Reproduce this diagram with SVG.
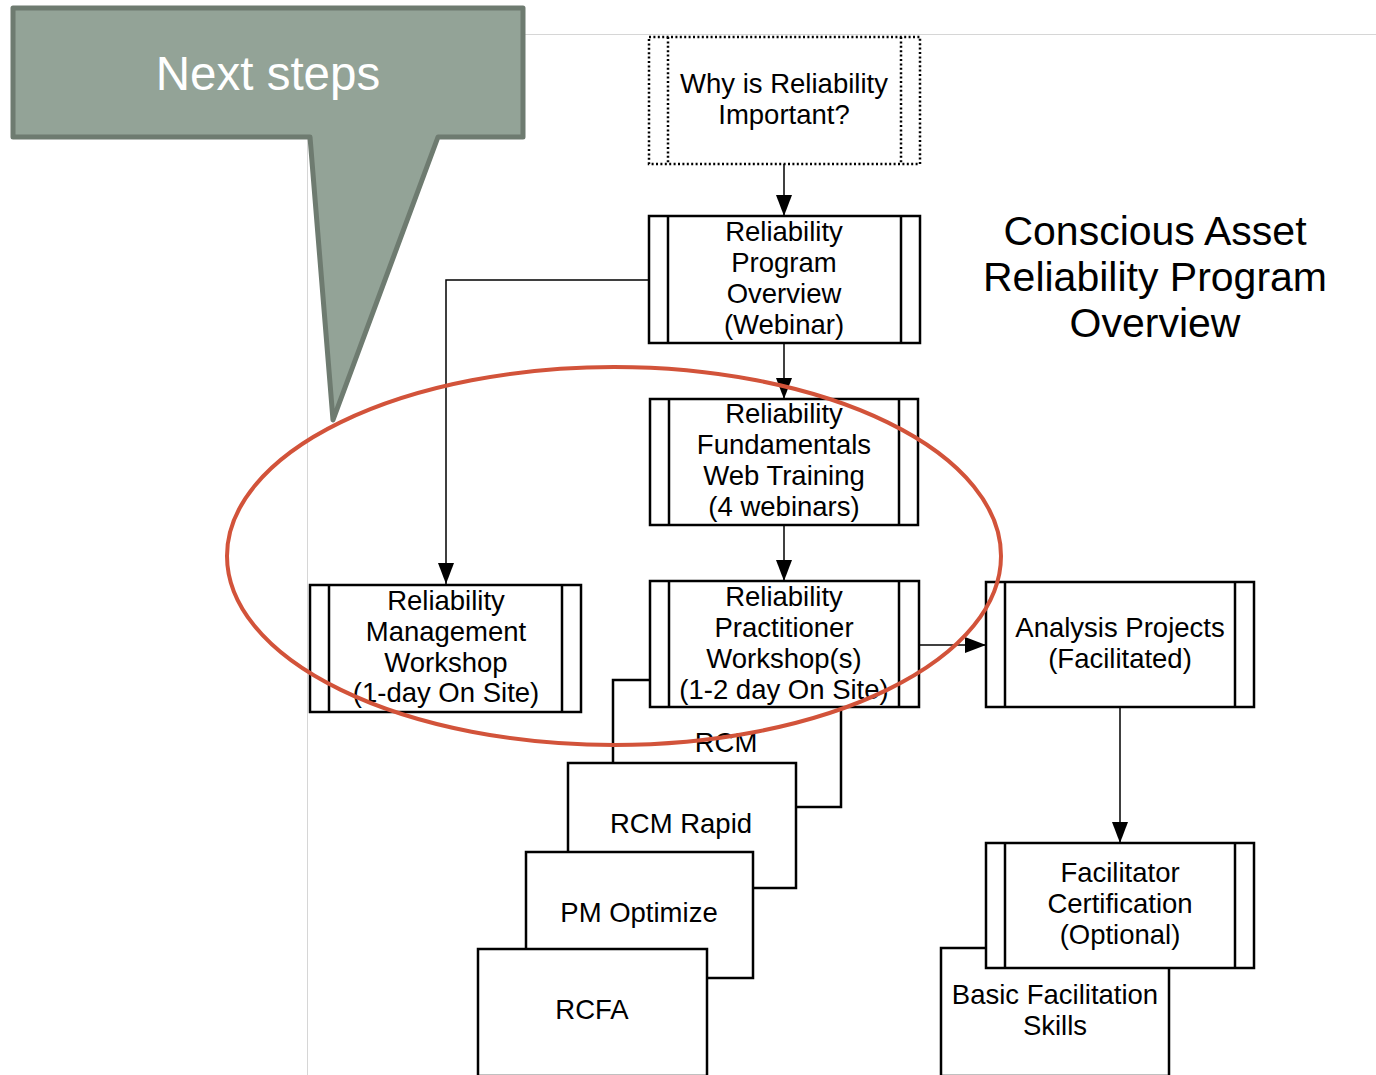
<svg xmlns="http://www.w3.org/2000/svg" width="1376" height="1075" viewBox="0 0 1376 1075">
  <style>
    text { font-family: "Liberation Sans", Arial, sans-serif; fill: #000; }
    .lbl { font-size: 27.5px; text-anchor: middle; }
    .title { font-size: 41px; text-anchor: middle; }
    .box { fill: #fff; stroke: #000; stroke-width: 2.5; }
    .bar { fill: none; stroke: #000; stroke-width: 2.5; }
    .dot { fill: #fff; stroke: #000; stroke-width: 2.5; stroke-dasharray: 2 2.4; }
    .dotbar { fill: none; stroke: #000; stroke-width: 2.5; stroke-dasharray: 2 2.4; }
    .conn { fill: none; stroke: #000; stroke-width: 1.5; }
    .frame { fill: none; stroke: #d6d6d6; stroke-width: 1; }
  </style>
  <defs>
    <marker id="arrow" viewBox="0 0 21 16" refX="21" refY="8" markerWidth="21" markerHeight="16" markerUnits="userSpaceOnUse" orient="auto">
      <path d="M0,0 L21,8 L0,16 z" fill="#000"/>
    </marker>
  </defs>

  <rect width="1376" height="1075" fill="#fff"/>

  <!-- page frame edges -->
  <line class="frame" x1="523" y1="34.5" x2="1376" y2="34.5"/>
  <line class="frame" x1="307.5" y1="137" x2="307.5" y2="1075"/>

  <!-- connectors -->
  <g id="connectors">
    <line class="conn" x1="784" y1="164" x2="784" y2="216" marker-end="url(#arrow)"/>
    <line class="conn" x1="784" y1="343" x2="784" y2="399" marker-end="url(#arrow)"/>
    <line class="conn" x1="784" y1="525" x2="784" y2="581" marker-end="url(#arrow)"/>
    <polyline class="conn" points="649,280 446,280 446,584" marker-end="url(#arrow)"/>
    <line class="conn" x1="919" y1="645" x2="986" y2="645" marker-end="url(#arrow)"/>
    <line class="conn" x1="1120" y1="707" x2="1120" y2="843" stroke="#444" marker-end="url(#arrow)"/>
  </g>

  <!-- title -->
  <g id="title">
    <text class="title" x="1155" y="245">Conscious Asset</text>
    <text class="title" x="1155" y="291">Reliability Program</text>
    <text class="title" x="1155" y="337">Overview</text>
  </g>

  <g id="why">
    <rect class="dot" x="649" y="37" width="271" height="127"/>
    <line class="dotbar" x1="668" y1="37" x2="668" y2="164"/>
    <line class="dotbar" x1="901" y1="37" x2="901" y2="164"/>
    <text class="lbl" x="784" y="93">Why is Reliability</text>
    <text class="lbl" x="784" y="124">Important?</text>
  </g>

  <g id="program-overview">
    <rect class="box" x="649" y="216" width="271" height="127"/>
    <line class="bar" x1="668" y1="216" x2="668" y2="343"/>
    <line class="bar" x1="901" y1="216" x2="901" y2="343"/>
    <text class="lbl" x="784" y="241">Reliability</text>
    <text class="lbl" x="784" y="272">Program</text>
    <text class="lbl" x="784" y="303">Overview</text>
    <text class="lbl" x="784" y="334">(Webinar)</text>
  </g>

  <g id="fundamentals">
    <rect class="box" x="650" y="399" width="268" height="126"/>
    <line class="bar" x1="669" y1="399" x2="669" y2="525"/>
    <line class="bar" x1="899" y1="399" x2="899" y2="525"/>
    <text class="lbl" x="784" y="423">Reliability</text>
    <text class="lbl" x="784" y="454">Fundamentals</text>
    <text class="lbl" x="784" y="485">Web Training</text>
    <text class="lbl" x="784" y="516">(4 webinars)</text>
  </g>

  <g id="management">
    <rect class="box" x="310" y="585" width="271" height="127"/>
    <line class="bar" x1="329" y1="585" x2="329" y2="712"/>
    <line class="bar" x1="562" y1="585" x2="562" y2="712"/>
    <text class="lbl" x="446" y="610">Reliability</text>
    <text class="lbl" x="446" y="641">Management</text>
    <text class="lbl" x="446" y="672">Workshop</text>
    <text class="lbl" x="446" y="702">(1-day On Site)</text>
  </g>

  <!-- stacked method cards, back to front -->
  <g id="rcm">
    <rect class="box" x="613" y="680" width="228" height="127"/>
    <text class="lbl" x="726" y="752">RCM</text>
  </g>

  <g id="practitioner">
    <rect class="box" x="650" y="581" width="269" height="126"/>
    <line class="bar" x1="669" y1="581" x2="669" y2="707"/>
    <line class="bar" x1="899" y1="581" x2="899" y2="707"/>
    <text class="lbl" x="784" y="606">Reliability</text>
    <text class="lbl" x="784" y="637">Practitioner</text>
    <text class="lbl" x="784" y="668">Workshop(s)</text>
    <text class="lbl" x="784" y="699">(1-2 day On Site)</text>
  </g>

  <g id="rcm-rapid">
    <rect class="box" x="568" y="763" width="228" height="125"/>
    <text class="lbl" x="681" y="833">RCM Rapid</text>
  </g>

  <g id="pm-optimize">
    <rect class="box" x="526" y="852" width="227" height="126"/>
    <text class="lbl" x="639" y="922">PM Optimize</text>
  </g>

  <g id="rcfa">
    <rect class="box" x="478" y="949" width="229" height="127"/>
    <text class="lbl" x="592" y="1019">RCFA</text>
  </g>

  <g id="analysis">
    <rect class="box" x="986" y="582" width="268" height="125"/>
    <line class="bar" x1="1005" y1="582" x2="1005" y2="707"/>
    <line class="bar" x1="1235" y1="582" x2="1235" y2="707"/>
    <text class="lbl" x="1120" y="637">Analysis Projects</text>
    <text class="lbl" x="1120" y="668">(Facilitated)</text>
  </g>

  <g id="basic-facilitation">
    <rect class="box" x="941" y="948" width="228" height="128"/>
    <text class="lbl" x="1055" y="1004">Basic Facilitation</text>
    <text class="lbl" x="1055" y="1035">Skills</text>
  </g>

  <g id="facilitator">
    <rect class="box" x="986" y="843" width="268" height="125"/>
    <line class="bar" x1="1005" y1="843" x2="1005" y2="968"/>
    <line class="bar" x1="1235" y1="843" x2="1235" y2="968"/>
    <text class="lbl" x="1120" y="882">Facilitator</text>
    <text class="lbl" x="1120" y="913">Certification</text>
    <text class="lbl" x="1120" y="944">(Optional)</text>
  </g>

  <!-- callout -->
  <g id="callout">
    <polygon points="13,8 523,8 523,137 438,137 333,420 310,137 13,137" fill="#93a397" stroke="#6e7b70" stroke-width="5" stroke-linejoin="round"/>
    <text x="268" y="90" font-size="47.5" text-anchor="middle" style="fill:#fff">Next steps</text>
  </g>

  <!-- highlight ring -->
  <ellipse id="highlight" cx="614" cy="556" rx="387" ry="189" fill="none" stroke="#d2533a" stroke-width="4"/>
</svg>
